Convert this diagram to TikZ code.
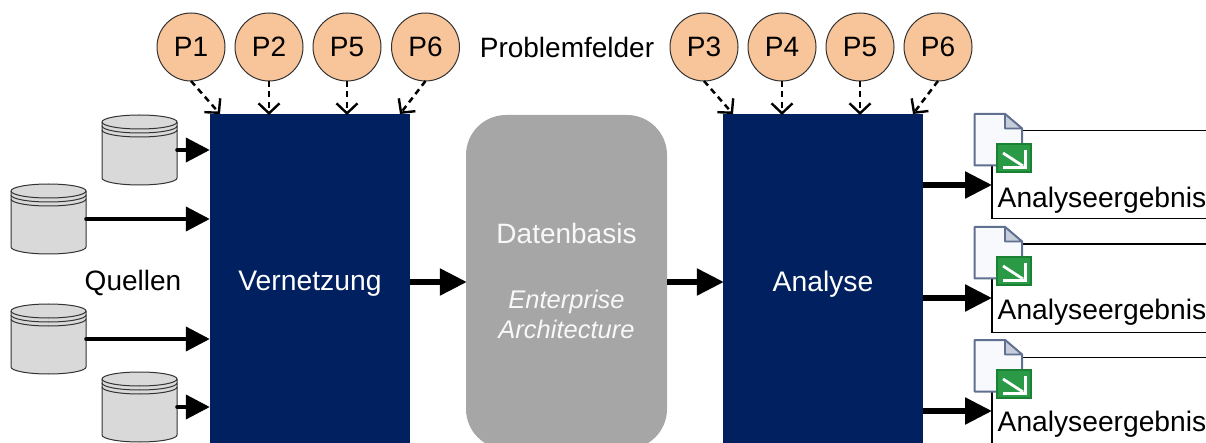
\documentclass[tikz,border=0pt]{standalone}
\usepackage{fontspec}
\setmainfont{Liberation Sans}
\usetikzlibrary{arrows.meta,calc}
\definecolor{navy}{HTML}{00205F}
\definecolor{peach}{HTML}{F8C499}
\definecolor{midgray}{HTML}{A6A6A6}
\definecolor{cylgray}{HTML}{D9D9D9}
\definecolor{docline}{HTML}{5F7090}
\definecolor{docfold}{HTML}{C5CEDA}
\definecolor{docfill}{HTML}{F7F9FC}
\definecolor{greenbox}{HTML}{1A8034}
\definecolor{greenmid}{HTML}{2A9A46}
\tikzset{
  x=1pt,y=-1pt,
  problem/.style={circle,draw=black!80,line width=1pt,fill=peach,minimum size=68pt,inner sep=0pt,font=\fontsize{28}{30}\selectfont},
  block/.style={fill=navy,minimum width=200pt,minimum height=340pt,inner sep=0pt,text=white,font=\fontsize{28.3}{30}\selectfont},
  basis/.style={fill=midgray,rounded corners=40pt,minimum width=201pt,minimum height=334pt,inner sep=0pt},
  resultbox/.style={draw=black,line width=1.5pt,fill=white,minimum width=240pt,minimum height=88pt,inner sep=0pt},
  label/.style={font=\fontsize{28}{30}\selectfont,inner sep=0pt},
  restext/.style={font=\fontsize{28.2}{30}\selectfont,inner sep=0pt,anchor=west},
  flow/.style={line width=4pt,line cap=round,-{Triangle[length=24pt,width=24pt]}},
  bigflow/.style={line width=5.5pt,-{Triangle[length=27pt,width=26pt]},shorten >=-1pt},
  hint/.style={dash pattern=on 6pt off 4.5pt,line width=2.5pt,-{Straight Barb[length=10pt,width=21pt,line width=2.4pt]}},
  cylshape/.style={draw=black!80,line width=1pt,fill=cylgray},
  cylnode/.style={minimum width=75pt,minimum height=70pt,inner sep=0pt}
}
\newcommand{\cylat}[3]{%
  \node[cylnode] (#1) at (#2,#3) {};
  \begin{scope}[shift={(#2,#3)}]
    \path[cylshape] (-37.5,-28) arc[start angle=180,end angle=360,x radius=37.5,y radius=7]
      -- (37.5,28) arc[start angle=0,end angle=180,x radius=37.5,y radius=7] -- cycle;
    \draw[black!80,line width=1pt] (-37.5,-28) arc[start angle=180,end angle=0,x radius=37.5,y radius=7];
    \draw[black!80,line width=1pt] (-37.5,-24) arc[start angle=180,end angle=0,x radius=37.5,y radius=7];
    \draw[black!80,line width=1pt] (-37.5,-20) arc[start angle=180,end angle=0,x radius=37.5,y radius=7];
  \end{scope}}
\newcommand{\docicon}[3]{%
  \begin{scope}[shift={(#2,#3)}]
    \node[inner sep=0pt,minimum size=0pt] (#1) at (974,114) {};
    \path[draw=docline,line width=2pt,fill=docfill,line join=round] (974.5,114) -- (1005,114) -- (1022,128.5) -- (1022,165.5) -- (974.5,165.5) -- cycle;
    \path[draw=docline,line width=1.8pt,fill=docfold,line join=round] (1005,114) -- (1022,128.5) -- (1005,128.5) -- cycle;
    \fill[greenbox] (996,143) rectangle (1032,173);
    \fill[greenmid] (998,145) rectangle (1030,171);
    \draw[white,line width=2.8pt] (1003,153) -- (1023,166);
    \draw[white,line width=2.8pt] (1025.5,150) -- (1025.5,167.5) -- (1003,167.5);
  \end{scope}}
\begin{document}
\begin{tikzpicture}
\useasboundingbox (0,0) rectangle (1206,443);
\clip (0,0) rectangle (1206,443);
% blocks
\node[block] (vern) at (310,284) {Vernetzung};
\node[basis] (base) at (566.5,282) {};
\node[block] (anal) at (823,284) {Analyse};
\node[text=white!92!midgray,font=\fontsize{28}{30}\selectfont,inner sep=0pt] (dbt) at (566.5,233) {Datenbasis};
\node[text=white!92!midgray,font=\fontsize{25.5}{30}\selectfont\itshape,align=center,inner sep=0pt] (eat) at (566.5,314) {Enterprise\\Architecture};
% problems
\node[problem] (p1) at (191,47) {P1};
\node[problem] (p2) at (269,47) {P2};
\node[problem] (p5a) at (347,47) {P5};
\node[problem] (p6a) at (425.5,47) {P6};
\node[problem] (p3) at (704,47) {P3};
\node[problem] (p4) at (782,47) {P4};
\node[problem] (p5b) at (860,47) {P5};
\node[problem] (p6b) at (938,47) {P6};
\node[label] (pf) at (567,47) {Problemfelder};
\node[label] (qu) at (133,283) {Quellen};
\coordinate (t1) at (220,114);
\coordinate (t2) at (269,115);
\coordinate (t5a) at (347,115);
\coordinate (t6a) at (400,114);
\coordinate (t3) at (733,114);
\coordinate (t4) at (782,115);
\coordinate (t5b) at (860,115);
\coordinate (t6b) at (913,114);
\foreach \a/\b in {p1/t1,p2/t2,p5a/t5a,p6a/t6a,p3/t3,p4/t4,p5b/t5b,p6b/t6b}{
  \draw[hint] (\a) ++(0,34) -- (\b);
}
% sources
\cylat{c1}{139.5}{150}
\cylat{c2}{48.5}{219}
\cylat{c3}{48.5}{339}
\cylat{c4}{139.5}{407}
\draw[flow] (c1.east) -- (vern.west |- c1.east);
\draw[flow] (c2.east) -- (vern.west |- c2.east);
\draw[flow] (c3.east) -- (vern.west |- c3.east);
\draw[flow] (c4.east) -- (vern.west |- c4.east);
% middle
\draw[bigflow] (vern.east |- base.west) -- (base.west);
\draw[bigflow] (base.east) -- (anal.west |- base.east);
% results
\node[resultbox,anchor=north west] (r1) at (991,130) {};
\node[resultbox,anchor=north west] (r2) at (991,243.5) {};
\node[resultbox,anchor=north west] (r3) at (991,356.5) {};
\node[restext] (rt1) at (997.5,200) {Analyseergebnis};
\node[restext] (rt2) at (997.5,312) {Analyseergebnis};
\node[restext] (rt3) at (997.5,424) {Analyseergebnis};
\coordinate (a1) at (r1.west |- 0,185);
\coordinate (a2) at (r2.west |- 0,298);
\coordinate (a3) at (r3.west |- 0,411);
\draw[bigflow] (anal.east |- a1) -- (a1);
\draw[bigflow] (anal.east |- a2) -- (a2);
\draw[bigflow] (anal.east |- a3) -- (a3);
\docicon{d1}{0}{0}
\docicon{d2}{0}{113}
\docicon{d3}{0}{226}
\end{tikzpicture}
\end{document}
